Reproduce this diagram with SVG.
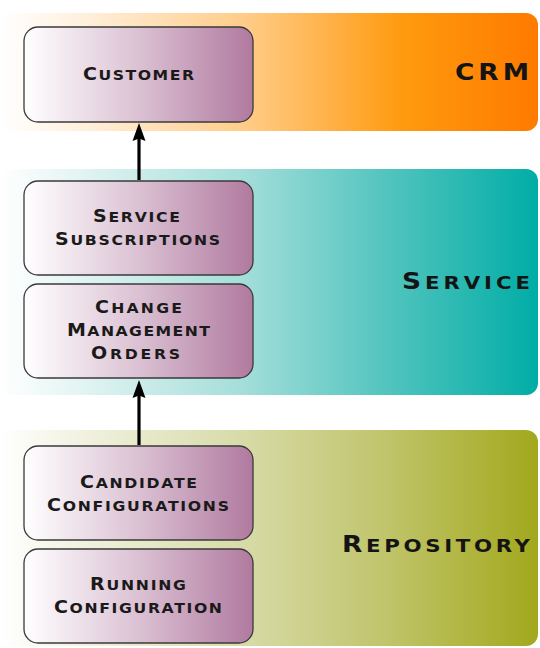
<svg xmlns="http://www.w3.org/2000/svg" width="540" height="648" viewBox="0 0 540 648">
<style>
  .box { stroke: #3a3a3a; stroke-width: 1.3; fill: url(#boxGrad); }
  .lbl { font-family: "DejaVu Sans", "Liberation Sans", sans-serif; font-weight: bold; font-size: 14px; fill: #1a1a1a; }
  .lbl .c { font-size: 17px; }
  .band { font-family: "DejaVu Sans", "Liberation Sans", sans-serif; font-weight: bold; font-size: 18.5px; fill: #141414; }
  .band .c { font-size: 23px; }
  .conn { stroke: #000; stroke-width: 3.2; fill: none; }
</style>
<defs>
  <linearGradient id="boxGrad" x1="0" y1="0" x2="1" y2="0">
    <stop offset="0" stop-color="#FFFFFF"/>
    <stop offset="0.5" stop-color="#DBC1D3"/>
    <stop offset="1" stop-color="#B07A9F"/>
  </linearGradient>
  <linearGradient id="crmGrad" x1="0" y1="0" x2="1" y2="0">
    <stop offset="0" stop-color="#FFFFFF"/>
    <stop offset="0.15" stop-color="#FFF0DE"/>
    <stop offset="0.45" stop-color="#FFCD8A"/>
    <stop offset="0.75" stop-color="#FF9A0E"/>
    <stop offset="1" stop-color="#FF7A00"/>
  </linearGradient>
  <linearGradient id="svcGrad" x1="0" y1="0" x2="1" y2="0">
    <stop offset="0" stop-color="#FFFFFF"/>
    <stop offset="0.15" stop-color="#E2F4F3"/>
    <stop offset="0.45" stop-color="#A4DEDA"/>
    <stop offset="0.72" stop-color="#52C4BE"/>
    <stop offset="1" stop-color="#00ADA6"/>
  </linearGradient>
  <linearGradient id="repGrad" x1="0" y1="0" x2="1" y2="0">
    <stop offset="0" stop-color="#FFFFFF"/>
    <stop offset="0.15" stop-color="#F1F2E0"/>
    <stop offset="0.45" stop-color="#D7DBA8"/>
    <stop offset="0.72" stop-color="#C0C46A"/>
    <stop offset="1" stop-color="#A2A81C"/>
  </linearGradient>
  <marker id="arrow" markerUnits="userSpaceOnUse" markerWidth="18" markerHeight="14" refX="4" refY="7" orient="auto" viewBox="0 0 18 14">
    <path d="M18,7 L0,0.5 L2.5,7 L0,13.5 Z" fill="#000"/>
  </marker>
</defs>

<g id="layer-crm">
  <rect x="0" y="13" width="538" height="118" rx="12" fill="url(#crmGrad)"/>
  <g transform="scale(1.15 1)">
    <text class="band" x="395.65" y="80" textLength="64.35" lengthAdjust="spacing"><tspan class="c">CRM</tspan></text>
  </g>
</g>
<g id="layer-service">
  <rect x="0" y="169" width="538" height="226" rx="12" fill="url(#svcGrad)"/>
  <g transform="scale(1.15 1)">
    <text class="band" x="349.57" y="289" textLength="111.3" lengthAdjust="spacing"><tspan class="c">S</tspan>ERVICE</text>
  </g>
</g>
<g id="layer-repository">
  <rect x="0" y="430" width="538" height="216" rx="12" fill="url(#repGrad)"/>
  <g transform="scale(1.15 1)">
    <text class="band" x="297.39" y="552" textLength="163.48" lengthAdjust="spacing"><tspan class="c">R</tspan>EPOSITORY</text>
  </g>
</g>

<g id="connectors">
  <line class="conn" x1="139" y1="180" x2="139" y2="137" marker-end="url(#arrow)"/>
  <line class="conn" x1="139" y1="445" x2="139" y2="394" marker-end="url(#arrow)"/>
</g>

<g id="customer">
  <rect class="box" x="24" y="27" width="229" height="95" rx="14"/>
  <g transform="scale(1.12 1)">
    <text class="lbl" x="74.11" y="80" textLength="99.11" lengthAdjust="spacing"><tspan class="c">C</tspan>USTOMER</text>
  </g>
</g>
<g id="service-subscriptions">
  <rect class="box" x="24" y="181" width="229" height="94" rx="14"/>
  <g transform="scale(1.12 1)">
    <text class="lbl" x="83.04" y="222" textLength="77.68" lengthAdjust="spacing"><tspan class="c">S</tspan>ERVICE</text>
    <text class="lbl" x="49.11" y="245" textLength="147.32" lengthAdjust="spacing"><tspan class="c">S</tspan>UBSCRIPTIONS</text>
  </g>
</g>
<g id="change-management-orders">
  <rect class="box" x="24" y="284" width="229" height="94" rx="14"/>
  <g transform="scale(1.12 1)">
    <text class="lbl" x="84.82" y="313" textLength="77.68" lengthAdjust="spacing"><tspan class="c">C</tspan>HANGE</text>
    <text class="lbl" x="59.82" y="336" textLength="127.68" lengthAdjust="spacing"><tspan class="c">M</tspan>ANAGEMENT</text>
    <text class="lbl" x="81.25" y="359" textLength="79.46" lengthAdjust="spacing"><tspan class="c">O</tspan>RDERS</text>
  </g>
</g>
<g id="candidate-configurations">
  <rect class="box" x="24" y="446" width="229" height="94" rx="14"/>
  <g transform="scale(1.12 1)">
    <text class="lbl" x="71.43" y="488" textLength="104.46" lengthAdjust="spacing"><tspan class="c">C</tspan>ANDIDATE</text>
    <text class="lbl" x="41.96" y="511" textLength="162.5" lengthAdjust="spacing"><tspan class="c">C</tspan>ONFIGURATIONS</text>
  </g>
</g>
<g id="running-configuration">
  <rect class="box" x="24" y="549" width="229" height="94" rx="14"/>
  <g transform="scale(1.12 1)">
    <text class="lbl" x="80.36" y="590" textLength="85.71" lengthAdjust="spacing"><tspan class="c">R</tspan>UNNING</text>
    <text class="lbl" x="48.21" y="613" textLength="150" lengthAdjust="spacing"><tspan class="c">C</tspan>ONFIGURATION</text>
  </g>
</g>
</svg>
